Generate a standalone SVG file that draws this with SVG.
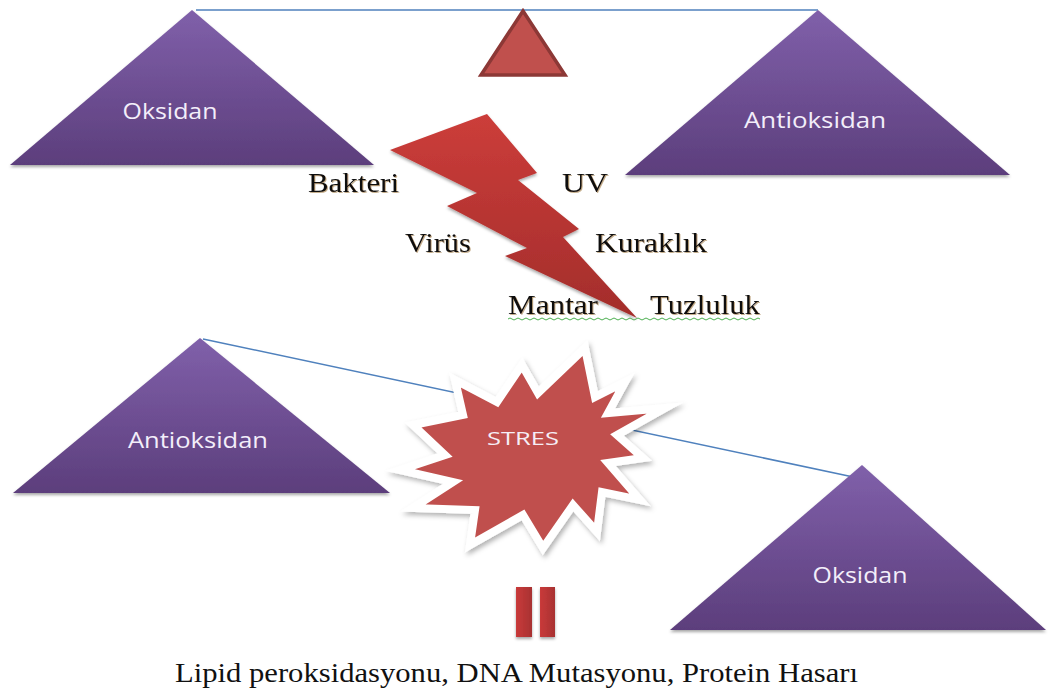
<svg xmlns="http://www.w3.org/2000/svg" width="1048" height="691" viewBox="0 0 1048 691">
<defs>
<linearGradient id="purple" x1="0" y1="0" x2="0" y2="1">
<stop offset="0" stop-color="#8060aa"/>
<stop offset="1" stop-color="#5c3e7c"/>
</linearGradient>
<linearGradient id="bolt" x1="0" y1="0" x2="0" y2="1">
<stop offset="0" stop-color="#cc3d3a"/>
<stop offset="1" stop-color="#a32d2b"/>
</linearGradient>
<linearGradient id="bar" x1="0" y1="0" x2="1" y2="0">
<stop offset="0" stop-color="#c93a3a"/>
<stop offset="1" stop-color="#a83232"/>
</linearGradient>
<filter id="sh" x="-10%" y="-10%" width="120%" height="130%">
<feDropShadow dx="0" dy="2" stdDeviation="1.5" flood-color="#000" flood-opacity="0.35"/>
</filter>
<filter id="shs" x="-10%" y="-10%" width="125%" height="125%">
<feDropShadow dx="2" dy="3" stdDeviation="2.5" flood-color="#000" flood-opacity="0.3"/>
</filter>
<filter id="txt" x="-5%" y="-20%" width="110%" height="140%">
<feDropShadow dx="1" dy="1" stdDeviation="0.6" flood-color="#7a4a10" flood-opacity="0.45"/>
</filter>
</defs>
<style>
.tri{fill:url(#purple);filter:url(#sh)}
.lbl{font-family:"Open Sans","Noto Sans",sans-serif;font-size:22px;fill:#f3eefa;text-anchor:middle}
.ser{font-family:"Liberation Serif","Times New Roman",serif;font-size:27px;fill:#111}
.conn{stroke:#4f81bd;stroke-width:1.5;fill:none}
</style>
<rect width="1048" height="691" fill="#fff"/>
<g id="connectors">
<line class="conn" x1="196" y1="10" x2="818" y2="10"/>
<line class="conn" x1="203" y1="339" x2="858" y2="478"/>
</g>
<g id="fulcrum">
<polygon points="523,11 481,75 565,75" fill="#c0504d" stroke="#8c3836" stroke-width="3.5" stroke-linejoin="miter"/>
</g>
<g id="oksidan-top">
<polygon class="tri" points="192,10 10,165 374,165"/>
<text class="lbl" x="170" y="119" textLength="95" lengthAdjust="spacingAndGlyphs">Oksidan</text>
</g>
<g id="antioksidan-top">
<polygon class="tri" points="818,10 625,175 1010,175"/>
<text class="lbl" x="815" y="128" textLength="142" lengthAdjust="spacingAndGlyphs">Antioksidan</text>
</g>
<g id="lightning">
<polygon points="390,150 487,114 537,173 518,180 579,229 563,237 637,318 505,256 527,248 447,206 477,193" fill="url(#bolt)" filter="url(#sh)"/>
</g>
<g id="factors" filter="url(#txt)">
<text class="ser" x="308" y="192" textLength="91" lengthAdjust="spacingAndGlyphs">Bakteri</text>
<text class="ser" x="562" y="192" textLength="46" lengthAdjust="spacingAndGlyphs">UV</text>
<text class="ser" x="405" y="252" textLength="66" lengthAdjust="spacingAndGlyphs">Virüs</text>
<text class="ser" x="595" y="252" textLength="112" lengthAdjust="spacingAndGlyphs">Kuraklık</text>
<text class="ser" x="508" y="314" textLength="90" lengthAdjust="spacingAndGlyphs">Mantar</text>
<text class="ser" x="650" y="314" textLength="110" lengthAdjust="spacingAndGlyphs">Tuzluluk</text>
</g>
<path d="M508,319 q2,-2 4,0 t4,0 t4,0 t4,0 t4,0 t4,0 t4,0 t4,0 t4,0 t4,0 t4,0 t4,0 t4,0 t4,0 t4,0 t4,0 t4,0 t4,0 t4,0 t4,0 t4,0 t4,0 t4,0 t4,0 t4,0 t4,0 t4,0 t4,0 t4,0 t4,0 t4,0 t4,0 t4,0 t4,0 t4,0 t4,0 t4,0 t4,0 t4,0 t4,0 t4,0 t4,0 t4,0 t4,0 t4,0 t4,0 t4,0 t4,0 t4,0 t4,0 t4,0 t4,0 t4,0 t4,0 t4,0 t4,0 t4,0 t4,0 t4,0 t4,0 t4,0 t4,0 t4,0" fill="none" stroke="#4caf50" stroke-width="1"/>
<g id="antioksidan-bottom">
<polygon class="tri" points="200,338 13,493 390,493"/>
<text class="lbl" x="198" y="448" textLength="140" lengthAdjust="spacingAndGlyphs">Antioksidan</text>
</g>
<g id="oksidan-bottom">
<polygon class="tri" points="862,465 670,630 1046,630"/>
<text class="lbl" x="860" y="583" textLength="95" lengthAdjust="spacingAndGlyphs">Oksidan</text>
</g>
<g id="stres">
<polygon points="585,348 595,397 625,382 608,413 665,408 617,435 643,458 608,463 640,500 602,492 597,532 573,505 543,548 523,515 470,545 475,510 413,508 453,482 400,470 445,455 413,425 463,415 455,380 497,402 522,365 538,393" fill="#c0504d" stroke="#fff" stroke-width="8" stroke-linejoin="miter" stroke-miterlimit="10" filter="url(#shs)"/>
<text x="523" y="445" font-family="'Open Sans','Noto Sans',sans-serif" font-size="19" fill="#f6eef6" text-anchor="middle" textLength="72" lengthAdjust="spacingAndGlyphs">STRES</text>
</g>
<g id="equals" filter="url(#sh)">
<rect x="516" y="587" width="16" height="50" fill="url(#bar)"/>
<rect x="540" y="587" width="15" height="50" fill="url(#bar)"/>
</g>
<g id="result">
<text class="ser" x="175" y="682" textLength="683" lengthAdjust="spacingAndGlyphs">Lipid peroksidasyonu, DNA Mutasyonu, Protein Hasarı</text>
</g>
</svg>
